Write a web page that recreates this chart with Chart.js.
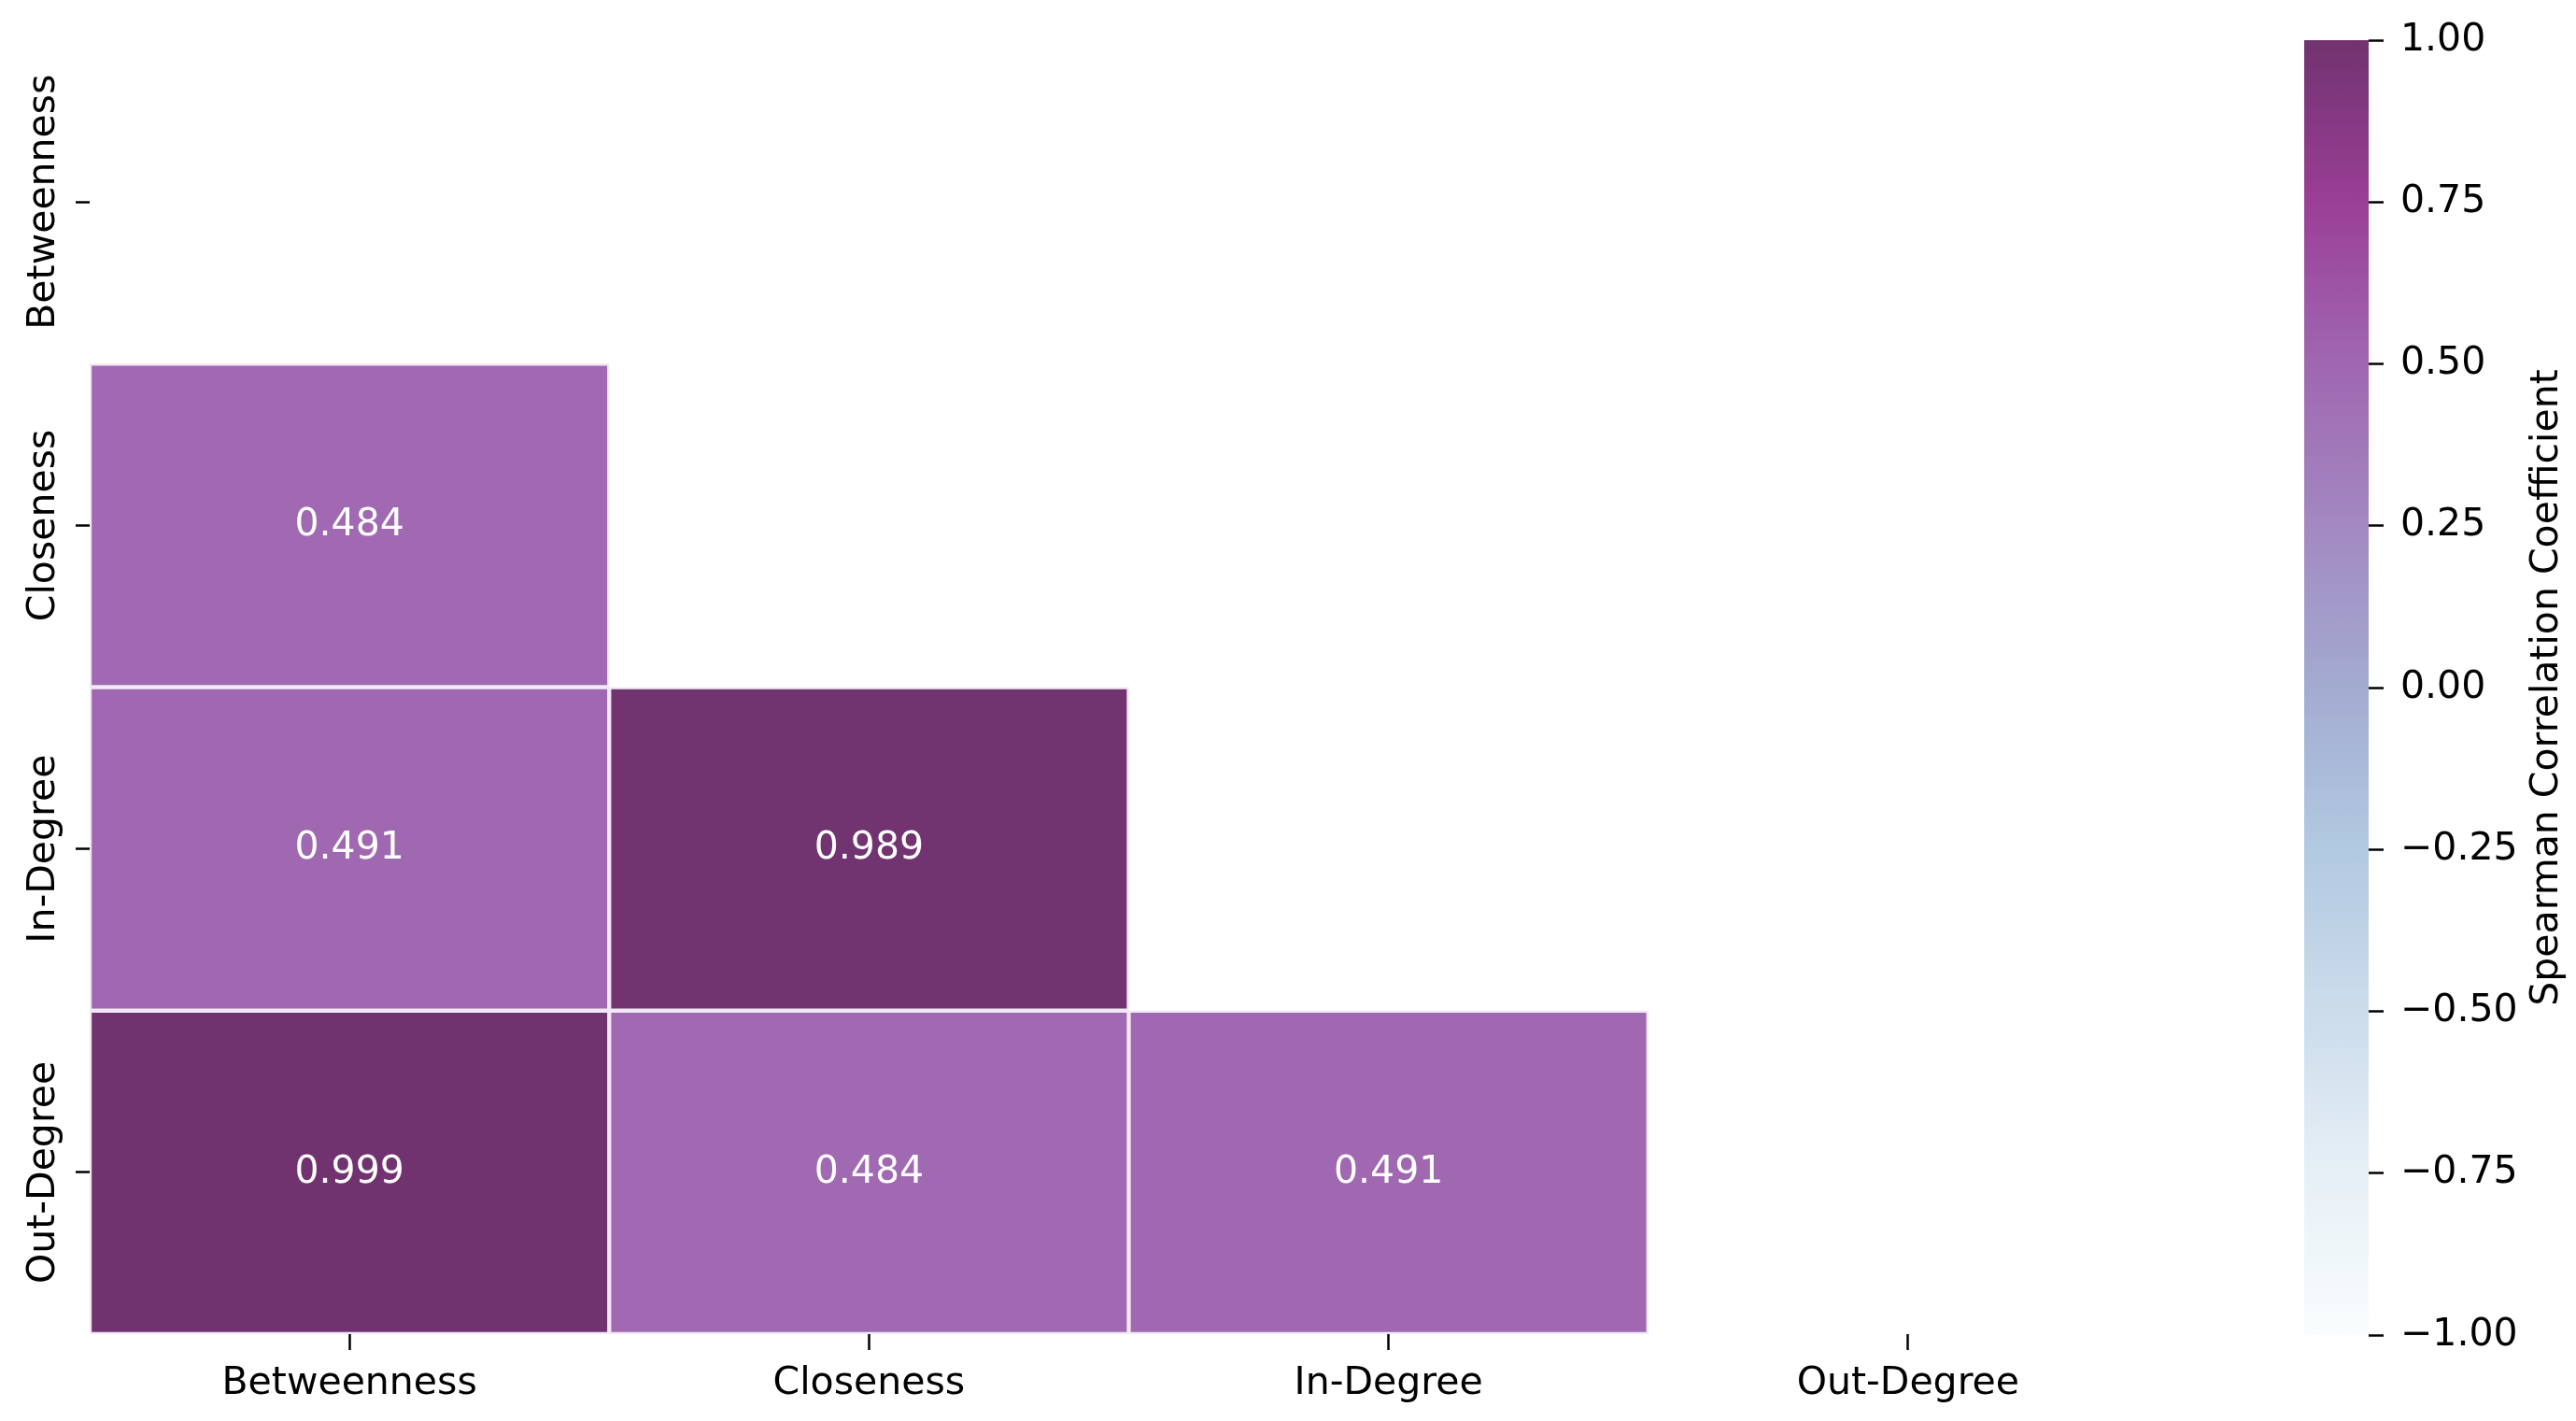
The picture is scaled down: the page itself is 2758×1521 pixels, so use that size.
<!DOCTYPE html>
<html>
<head>
<meta charset="utf-8">
<script src="https://cdn.jsdelivr.net/npm/chart.js@4.4.1/dist/chart.umd.min.js"></script>
<style>
  html, body { margin: 0; padding: 0; background: #ffffff; }
  body { width: 2758px; height: 1521px; position: relative; overflow: hidden; }
  #heat { position: absolute; left: 0; top: 0; }
  #cbar { position: absolute; left: 2400px; top: 0; }
</style>
</head>
<body>
<canvas id="heat" width="2400" height="1521" style="width:2400px;height:1521px"></canvas>
<canvas id="cbar" width="358" height="1521" style="width:358px;height:1521px"></canvas>
<script>
// ---- data ----
const metrics = ['Betweenness', 'Closeness', 'In-Degree', 'Out-Degree'];
const rowBetweenness = [null, null, null, null];
const rowCloseness   = [0.484, null, null, null];
const rowInDegree    = [0.491, 0.989, null, null];
const rowOutDegree   = [0.999, 0.484, 0.491, null];
const rows = [rowBetweenness, rowCloseness, rowInDegree, rowOutDegree];
const colorbarTicks = [-1, -0.75, -0.5, -0.25, 0, 0.25, 0.5, 0.75, 1];
const colorbarLabel = 'Spearman Correlation Coefficient';
const vmin = -1, vmax = 1;

// ---- BuPu colormap with alpha 0.8 on white ----
const BUPU = [
  [247,252,253],[224,236,244],[191,211,230],[158,188,218],[140,150,198],
  [140,107,177],[136,65,157],[129,15,124],[77,0,75]
];
const ALPHA = 0.8;
function cmap(t) {
  t = Math.max(0, Math.min(1, t));
  const n = BUPU.length - 1;
  const p = t * n;
  const i = Math.min(Math.floor(p), n - 1);
  const f = p - i;
  const c = [0,1,2].map(k => BUPU[i][k] + (BUPU[i+1][k] - BUPU[i][k]) * f);
  const b = c.map(v => Math.round(ALPHA * v + (1 - ALPHA) * 255));
  return `rgb(${b[0]},${b[1]},${b[2]})`;
}
function colorFor(v) { return cmap((v - vmin) / (vmax - vmin)); }

const FONT = "'DejaVu Sans', 'Liberation Sans', sans-serif";
const FSIZE = 41;

// ---- heatmap datasets (one floating bar per cell) ----
const datasets = rows.map((row, r) => ({
  label: metrics[r],
  data: row.map(v => v === null ? null : [r, r + 1]),
  values: row,
  backgroundColor: row.map(v => v === null ? 'rgba(0,0,0,0)' : colorFor(v)),
  borderColor: '#f1e8f3',
  borderWidth: 2.5,
  borderSkipped: false,
  barPercentage: 1,
  categoryPercentage: 1,
  grouped: false
}));

const heatLabels = {
  id: 'heatLabels',
  afterDatasetsDraw(chart) {
    const ctx = chart.ctx;
    ctx.save();
    ctx.fillStyle = '#ffffff';
    ctx.font = `${FSIZE}px ${FONT}`;
    ctx.textAlign = 'center';
    ctx.textBaseline = 'middle';
    chart.data.datasets.forEach((ds, di) => {
      const meta = chart.getDatasetMeta(di);
      meta.data.forEach((el, i) => {
        const v = ds.values[i];
        if (v === null || v === undefined) return;
        const p = el.getProps(['x', 'y', 'base'], true);
        ctx.fillText(v.toFixed(3), p.x, (p.y + p.base) / 2);
      });
    });
    ctx.restore();
  },
  afterDraw(chart) {
    const ys = chart.scales.y;
    const ctx = chart.ctx;
    ctx.save();
    ctx.fillStyle = '#000000';
    ctx.font = `${FSIZE}px ${FONT}`;
    ctx.textAlign = 'center';
    ctx.textBaseline = 'alphabetic';
    ys.ticks.forEach((t, i) => {
      const y = ys.getPixelForValue(t.value);
      ctx.save();
      ctx.translate(58, y);
      ctx.rotate(-Math.PI / 2);
      ctx.fillText(metrics[i], 0, 0);
      ctx.restore();
    });
    ctx.restore();
  }
};

new Chart(document.getElementById('heat'), {
  type: 'bar',
  data: { labels: metrics, datasets },
  options: {
    responsive: false,
    animation: false,
    devicePixelRatio: 1,
    layout: { padding: { top: 43, right: 79, left: 0, bottom: 0 } },
    plugins: { legend: { display: false }, tooltip: { enabled: false } },
    scales: {
      x: {
        type: 'category',
        offset: true,
        border: { display: false },
        grid: { display: true, offset: false, drawOnChartArea: false, drawTicks: true,
                tickLength: 17, tickWidth: 2.5, tickColor: '#000000' },
        ticks: { color: '#000000', font: { family: FONT, size: FSIZE }, padding: 12,
                 maxRotation: 0, minRotation: 0 },
        afterFit(s) { s.height = 93; }
      },
      y: {
        type: 'linear',
        min: 0, max: 4,
        reverse: true,
        border: { display: false },
        grid: { display: true, drawOnChartArea: false, drawTicks: true,
                tickLength: 15, tickWidth: 2.5, tickColor: '#000000' },
        ticks: { display: false },
        afterBuildTicks(s) { s.ticks = metrics.map((m, i) => ({ value: i + 0.5 })); },
        afterFit(s) { s.width = 96; }
      }
    }
  },
  plugins: [heatLabels]
});

// ---- colorbar ----
const cbarTitle = {
  id: 'cbarTitle',
  afterDraw(chart) {
    const ctx = chart.ctx;
    const ys = chart.scales.y;
    ctx.save();
    ctx.fillStyle = '#000000';
    ctx.font = `${FSIZE}px ${FONT}`;
    ctx.textAlign = 'center';
    ctx.textBaseline = 'alphabetic';
    ctx.translate(338, (ys.top + ys.bottom) / 2);
    ctx.rotate(-Math.PI / 2);
    ctx.fillText(colorbarLabel, 0, 0);
    ctx.restore();
  }
};

new Chart(document.getElementById('cbar'), {
  type: 'bar',
  data: {
    labels: ['cb'],
    datasets: [{
      data: [[vmin, vmax]],
      backgroundColor(ctx) {
        const ca = ctx.chart.chartArea;
        if (!ca) return colorFor(0);
        const g = ctx.chart.ctx.createLinearGradient(0, ca.bottom, 0, ca.top);
        const N = 64;
        for (let k = 0; k <= N; k++) g.addColorStop(k / N, cmap(k / N));
        return g;
      },
      borderWidth: 0,
      barPercentage: 1,
      categoryPercentage: 1
    }]
  },
  options: {
    responsive: false,
    animation: false,
    devicePixelRatio: 1,
    layout: { padding: { top: 43, left: 67, bottom: 92, right: 0 } },
    plugins: { legend: { display: false }, tooltip: { enabled: false } },
    scales: {
      x: { type: 'category', display: false, offset: true },
      y: {
        type: 'linear',
        position: 'right',
        min: vmin, max: vmax,
        border: { display: false },
        grid: { display: true, drawOnChartArea: false, drawTicks: true,
                tickLength: 16, tickWidth: 2.5, tickColor: '#000000' },
        afterBuildTicks(s) { s.ticks = colorbarTicks.map(v => ({ value: v })); },
        ticks: {
          color: '#000000', font: { family: FONT, size: FSIZE }, padding: 18,
          callback(v) { return (v < 0 ? '\u2212' : '') + Math.abs(v).toFixed(2); }
        },
        afterFit(s) { s.width = 222; }
      }
    }
  },
  plugins: [cbarTitle]
});
</script>
</body>
</html>
